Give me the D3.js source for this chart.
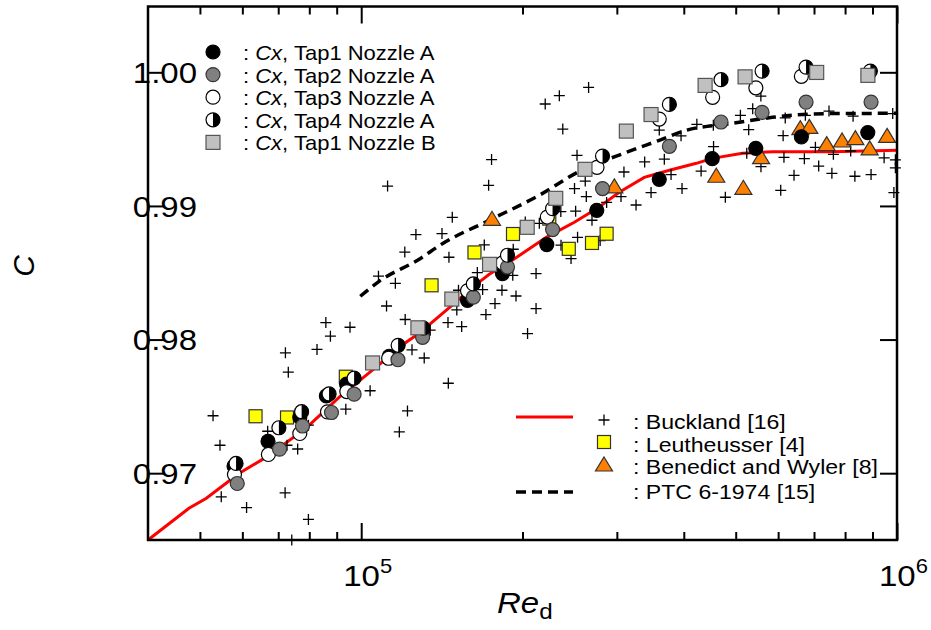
<!DOCTYPE html>
<html>
<head>
<meta charset="utf-8">
<script src="https://cdn.jsdelivr.net/npm/d3@7"></script>
<style>
  body { margin: 0; background: #fff; }
  svg { display: block; font-family: "Liberation Sans", Arial, sans-serif; }
</style>
</head>
<body>
<svg id="chart" width="931" height="630"></svg>
<script>
// data: [Re_d, C]
const tap1 = [[57900,0.97052],[67000,0.97239],[76800,0.97419],[86100,0.97578],[93900,0.97666],[112800,0.97875],[130000,0.98070],[157900,0.98294],[183500,0.98494],[222000,0.98711],[275200,0.98967],[360000,0.99199],[452000,0.99354],[545000,0.99431],[663000,0.99517],[882000,0.99549]];
const tap2 = [[58700,0.96923],[70400,0.97180],[77700,0.97353],[88000,0.97454],[97000,0.97591],[117100,0.97849],[130200,0.98017],[161900,0.98317],[187500,0.98543],[227600,0.98823],[282100,0.99130],[376000,0.99446],[469400,0.99628],[560000,0.99700],[676500,0.99777],[894500,0.99777]];
const tap3 = [[58000,0.96990],[67100,0.97140],[76800,0.97297],[86500,0.97459],[94000,0.97611],[112500,0.97860],[130300,0.98047],[157900,0.98365],[183500,0.98573],[222500,0.98917],[275500,0.99289],[360000,0.99650],[452800,0.99813],[545200,0.99884],[663000,0.99970],[884000,0.99985]];
const tap4 = [[58400,0.97073],[70200,0.97340],[77400,0.97460],[87100,0.97593],[97000,0.97711],[117200,0.97957],[130600,0.98085],[161900,0.98416],[187500,0.98631],[227600,0.98980],[282100,0.99373],[376000,0.99760],[469400,0.99945],[560000,1.00009],[676500,1.00039],[891800,1.00009]];
const nozzleB = [[105000,0.97825],[127600,0.98088],[147600,0.98303],[173600,0.98563],[204100,0.98840],[230700,0.99057],[261600,0.99274],[312500,0.99560],[347500,0.99684],[438400,0.99902],[520500,0.99966],[708100,0.99999],[882400,0.99977]];
const leutheusser = [[63500,0.97426],[72700,0.97417],[93600,0.97722],[135300,0.98406],[162700,0.98652],[192000,0.98790],[224400,0.98905],[244000,0.98679],[269600,0.98723],[287100,0.98792]];
const benedictWyler = [[175400,0.98900],[296800,0.99143],[460000,0.99222],[516700,0.99132],[557600,0.99361],[660100,0.99578],[686100,0.99588],[739200,0.99459],[789800,0.99486],[836200,0.99504],[889200,0.99427],[958300,0.99521]];
const bucklandPts = [[52900,0.97430],[54500,0.97209],[54800,0.96823],[61100,0.96743],[72100,0.96853],[79700,0.96654],[74200,0.96500],[72200,0.97901],[73100,0.97756],[82700,0.97926],[66900,0.97314],[72700,0.97209],[76100,0.97181],[79700,0.97359],[85900,0.98127],[87600,0.98025],[95300,0.98092],[93600,0.97479],[103900,0.97617],[107700,0.98474],[115800,0.98421],[111500,0.98251],[120800,0.98150],[124400,0.97923],[131100,0.97862],[122000,0.97466],[117800,0.97309],[145400,0.97673],[145200,0.98127],[154000,0.98097],[150800,0.98222],[164700,0.98501],[168500,0.98374],[183100,0.98369],[194500,0.98326],[177700,0.98269],[170900,0.98187],[204400,0.98045],[212000,0.98232],[191800,0.98481],[212000,0.98494],[175100,0.99347],[172900,0.99154],[112000,0.99149],[147900,0.98915],[126500,0.98786],[141500,0.98793],[120600,0.98655],[145800,0.98616],[169700,0.98708],[192200,0.98676],[220500,0.99763],[234300,0.99825],[265700,0.99887],[237800,0.99575],[202400,0.98880],[215000,0.98870],[235800,0.98958],[251300,0.98961],[269600,0.98893],[253400,0.98765],[279200,0.98741],[246400,0.98606],[236000,0.98706],[250100,0.99130],[263100,0.99070],[261900,0.99186],[252800,0.99379],[287100,0.99026],[309300,0.99254],[305400,0.99070],[325800,0.99007],[338100,0.99329],[367900,0.99350],[347500,0.99100],[378700,0.99235],[397000,0.99130],[360000,0.99568],[395300,0.99525],[423100,0.99611],[430900,0.99261],[454600,0.99444],[478200,0.99065],[510200,0.99678],[528700,0.99571],[524300,0.99394],[557100,0.99822],[537900,0.99728],[557300,0.99294],[615200,0.99364],[618600,0.99659],[613000,0.99526],[606700,0.99117],[642400,0.99229],[671600,0.99354],[674500,0.99678],[714200,0.99298],[704200,0.99439],[755900,0.99244],[746600,0.99710],[819500,0.99411],[828000,0.99672],[834400,0.99222],[894500,0.99235],[946100,0.99360],[981800,0.99691],[993100,0.99345],[993100,0.99285],[986700,0.99100],[454200,0.99603],[760800,0.99386],[134500,0.98070],[151900,0.98369]];
const bucklandCurve = [[40000,0.96500],[47700,0.96738],[51400,0.96813],[59200,0.97000],[66500,0.97120],[78900,0.97337],[91000,0.97569],[104800,0.97770],[121300,0.97980],[128300,0.98047],[135700,0.98130],[147900,0.98257],[161200,0.98391],[173400,0.98489],[188900,0.98578],[221500,0.98765],[249900,0.98878],[275800,0.98982],[303100,0.99102],[337500,0.99214],[376000,0.99267],[422200,0.99319],[452000,0.99356],[514600,0.99394],[585300,0.99405],[757500,0.99405],[1000000,0.99416]];
const ptcCurve = [[99600,0.98324],[108000,0.98436],[128300,0.98601],[141700,0.98717],[173400,0.98893],[215000,0.99080],[255300,0.99259],[312500,0.99401],[360000,0.99491],[404500,0.99566],[492800,0.99618],[585300,0.99663],[738200,0.99691],[1000000,0.99693]];

const xMajor = [1e5, 1e6];
const xMinor = [5e4, 6e4, 7e4, 8e4, 9e4, 2e5, 3e5, 4e5, 5e5, 6e5, 7e5, 8e5, 9e5];
const yTicks = [0.97, 0.98, 0.99, 1.00];
const yLabels = ['0.97', '0.98', '0.99', '1.00'];

const svg = d3.select('#chart');
const plotLeft = 148, plotRight = 897, plotTop = 6.5, plotBottom = 540;
const x = d3.scaleLog().domain([4e4, 1e6]).range([plotLeft, plotRight]);
const y = d3.scaleLinear().domain([0.965, 1.005]).range([plotBottom, 5.5]);
const SX = 1.1; // the source font is a little wider than Liberation Sans

function addText(tx, ty, size, anchor) {
  return svg.append('text')
    .attr('transform', `translate(${tx},${ty}) scale(${SX},1)`)
    .attr('font-size', size)
    .attr('text-anchor', anchor || 'start')
    .attr('fill', '#000');
}

svg.append('rect').attr('width', 931).attr('height', 630).attr('fill', '#fff');

// lines
const line = d3.line().x(d => x(d[0])).y(d => y(d[1]));
svg.append('path').datum(bucklandCurve)
  .attr('d', line).attr('fill', 'none').attr('stroke', '#ff0000').attr('stroke-width', 3);
svg.append('path').datum(ptcCurve)
  .attr('d', line.curve(d3.curveMonotoneX)).attr('fill', 'none')
  .attr('stroke', '#000').attr('stroke-width', 3.5).attr('stroke-dasharray', '10,6');

// marker drawing helpers
function plus(g, cx, cy) {
  g.append('path').attr('d', `M${cx - 5.5},${cy}H${cx + 5.5}M${cx},${cy - 5.5}V${cy + 5.5}`)
    .attr('stroke', '#000').attr('stroke-width', 1.3).attr('fill', 'none');
}
function square(g, cx, cy, s, fill, stroke) {
  g.append('rect').attr('x', cx - s / 2).attr('y', cy - s / 2).attr('width', s).attr('height', s)
    .attr('fill', fill).attr('stroke', stroke).attr('stroke-width', 1.2);
}
function triangle(g, cx, cy) {
  g.append('path').attr('d', `M${cx},${cy - 8}L${cx + 8.5},${cy + 6}L${cx - 8.5},${cy + 6}Z`)
    .attr('fill', '#ff8000').attr('stroke', '#333').attr('stroke-width', 1.2);
}
function circle(g, cx, cy, fill, stroke) {
  g.append('circle').attr('cx', cx).attr('cy', cy).attr('r', 7)
    .attr('fill', fill).attr('stroke', stroke).attr('stroke-width', 1.2);
}
function half(g, cx, cy) {
  circle(g, cx, cy, '#fff', '#000');
  g.append('path').attr('d', `M${cx},${cy - 7}A7,7 0 0 1 ${cx},${cy + 7}Z`).attr('fill', '#000');
}

const marks = svg.append('g');
bucklandPts.forEach(d => plus(marks, x(d[0]), y(d[1])));
leutheusser.forEach(d => square(marks, x(d[0]), y(d[1]), 13, '#ffff00', '#333'));
benedictWyler.forEach(d => triangle(marks, x(d[0]), y(d[1])));
tap1.forEach(d => circle(marks, x(d[0]), y(d[1]), '#000', '#000'));
tap3.forEach(d => circle(marks, x(d[0]), y(d[1]), '#fff', '#000'));
tap2.forEach(d => circle(marks, x(d[0]), y(d[1]), '#808080', '#333'));
tap4.forEach(d => half(marks, x(d[0]), y(d[1])));
nozzleB.forEach(d => square(marks, x(d[0]), y(d[1]), 14, '#c0c0c0', '#555'));

// y tick labels (they overlap the frame in the original)
yTicks.forEach((v, i) => {
  addText(197, y(v), 30, 'end').attr('dy', '0.36em').text(yLabels[i]);
});

// frame + inward ticks on all four sides
function ticks(axis, values, size, tr) {
  const g = svg.append('g').attr('transform', tr)
    .call(axis.tickValues(values).tickSize(size).tickFormat(''));
  g.select('.domain').remove();
  g.selectAll('.tick line').attr('stroke', '#000').attr('stroke-width', 2);
  g.selectAll('.tick text').remove();
}
ticks(d3.axisBottom(x), xMajor, -17, `translate(0,${plotBottom})`);
ticks(d3.axisBottom(x), xMinor, -8, `translate(0,${plotBottom})`);
ticks(d3.axisTop(x), xMajor, -17, `translate(0,${plotTop})`);
ticks(d3.axisTop(x), xMinor, -8, `translate(0,${plotTop})`);
ticks(d3.axisLeft(y), yTicks, -16, `translate(${plotLeft},0)`);
ticks(d3.axisRight(y), yTicks, -17, `translate(${plotRight},0)`);

svg.append('rect').attr('x', plotLeft).attr('y', plotTop)
  .attr('width', plotRight - plotLeft).attr('height', plotBottom - plotTop)
  .attr('fill', 'none').attr('stroke', '#000').attr('stroke-width', 2.5);

// x tick labels 10^n
xMajor.forEach(v => {
  const t = addText(x(v) - 18, 586, 30, 'start');
  t.append('tspan').text('10');
  t.append('tspan').attr('font-size', 20).attr('dy', -13).text(Math.round(Math.log10(v)));
});

// axis titles
const xt = addText(497, 613, 30, 'start');
xt.append('tspan').attr('font-style', 'italic').text('Re');
xt.append('tspan').attr('font-size', 22).attr('dy', 6).text('d');
svg.append('text').attr('transform', 'translate(34,266) rotate(-90)')
  .attr('text-anchor', 'middle').attr('font-size', 30).attr('font-style', 'italic').text('C');

// legend, top left
const legTop = [
  { name: 'Tap1 Nozzle A', draw: (g, a, b) => circle(g, a, b, '#000', '#000') },
  { name: 'Tap2 Nozzle A', draw: (g, a, b) => circle(g, a, b, '#808080', '#333') },
  { name: 'Tap3 Nozzle A', draw: (g, a, b) => circle(g, a, b, '#fff', '#000') },
  { name: 'Tap4 Nozzle A', draw: (g, a, b) => half(g, a, b) },
  { name: 'Tap1 Nozzle B', draw: (g, a, b) => square(g, a, b, 14, '#c0c0c0', '#555') }
];
const legG = svg.append('g');
legTop.forEach((d, i) => {
  const cy = 52 + i * 22.6;
  d.draw(legG, 213, cy);
  const t = addText(243, cy + 8, 20, 'start');
  t.append('tspan').text(': ');
  t.append('tspan').attr('font-style', 'italic').text('Cx');
  t.append('tspan').text(', ' + d.name);
});

// legend, bottom right
const leg2 = svg.append('g');
leg2.append('line').attr('x1', 516).attr('x2', 573).attr('y1', 417).attr('y2', 417)
  .attr('stroke', '#ff0000').attr('stroke-width', 3);
leg2.append('line').attr('x1', 516).attr('x2', 573).attr('y1', 492).attr('y2', 492)
  .attr('stroke', '#000').attr('stroke-width', 3.5).attr('stroke-dasharray', '10,6');
plus(leg2, 604, 420);
square(leg2, 604, 442, 13, '#ffff00', '#333');
triangle(leg2, 604, 465);
const leg2Text = [': Buckland [16]', ': Leutheusser [4]', ': Benedict and Wyler [8]', ': PTC 6-1974 [15]'];
const leg2Base = [429, 451.5, 474, 499];
leg2Text.forEach((s, i) => addText(633, leg2Base[i], 21, 'start').text(s));
</script>
</body>
</html>
